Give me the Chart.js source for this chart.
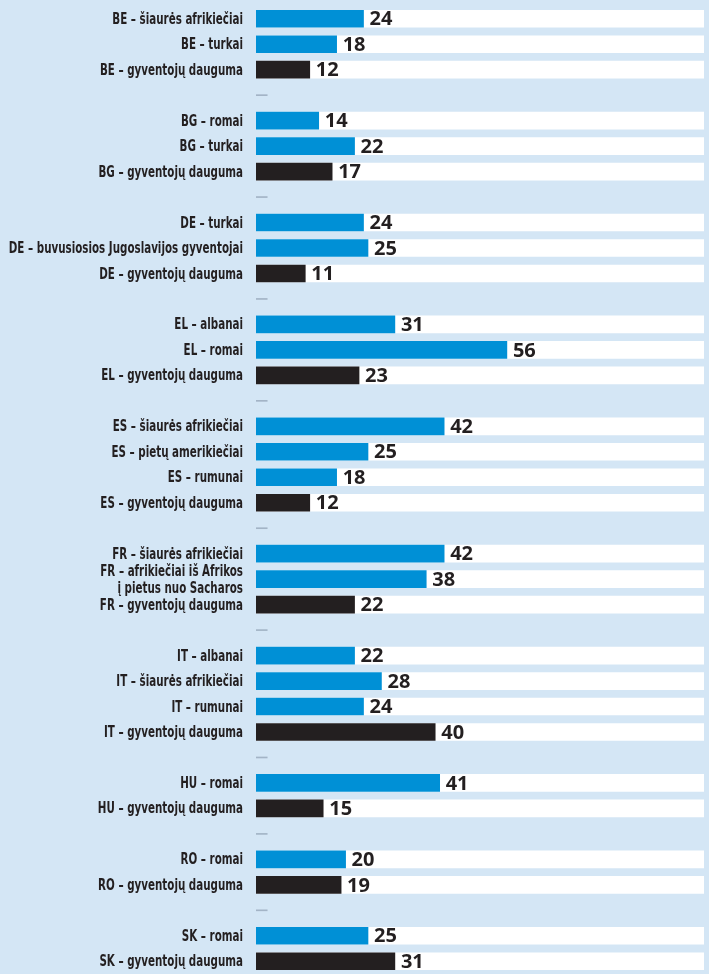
<!DOCTYPE html>
<html>
<head>
<meta charset="utf-8">
<script src="https://cdn.jsdelivr.net/npm/chart.js@4/dist/chart.umd.min.js"></script>
<style>
  body { margin: 0; background: #d4e6f5; }
  #wrap { width: 709px; height: 974px; position: relative; }
</style>
</head>
<body>
<div id="wrap"><canvas id="grafikas"></canvas></div>
<script>
// eilutės; null = tarpas tarp šalių grupių
const eilutes = [
    'BE – šiaurės afrikiečiai', 'BE – turkai', 'BE – gyventojų dauguma', null,
    'BG – romai', 'BG – turkai', 'BG – gyventojų dauguma', null,
    'DE – turkai', 'DE – buvusiosios Jugoslavijos gyventojai', 'DE – gyventojų dauguma', null,
    'EL – albanai', 'EL – romai', 'EL – gyventojų dauguma', null,
    'ES – šiaurės afrikiečiai', 'ES – pietų amerikiečiai', 'ES – rumunai', 'ES – gyventojų dauguma', null,
    'FR – šiaurės afrikiečiai', ['FR – afrikiečiai iš Afrikos', 'į pietus nuo Sacharos'], 'FR – gyventojų dauguma', null,
    'IT – albanai', 'IT – šiaurės afrikiečiai', 'IT – rumunai', 'IT – gyventojų dauguma', null,
    'HU – romai', 'HU – gyventojų dauguma', null,
    'RO – romai', 'RO – gyventojų dauguma', null,
    'SK – romai', 'SK – gyventojų dauguma'
];

const reiksmes = [
    24, 18, 12, null,
    14, 22, 17, null,
    24, 25, 11, null,
    31, 56, 23, null,
    42, 25, 18, 12, null,
    42, 38, 22, null,
    22, 28, 24, 40, null,
    41, 15, null,
    20, 19, null,
    25, 31
];

const skaleMax = 100;
const skirtukoIlgis = 2.5;

const spalvaMazuma = '#0090d6';
const spalvaDauguma = '#231f20';

function yraDauguma(label) {
    return typeof label === 'string' && label.includes('gyventojų dauguma');
}

const etiketes = eilutes.map(l => l === null ? '' : l);
const fonas = eilutes.map(l => l === null ? null : skaleMax);
const skirtukai = eilutes.map(l => l === null ? skirtukoIlgis : null);
const spalvos = eilutes.map(l => yraDauguma(l) ? spalvaDauguma : spalvaMazuma);

// siauras šriftas nepasiekiamas, tad etiketės suspaudžiamos horizontaliai
const etikeciuSuspaudimas = 0.74;

const eiluciuEtiketes = {
    id: 'eiluciuEtiketes',
    afterDraw(chart) {
        const ctx = chart.ctx;
        const y = chart.scales.y;
        const dešinė = y.right - 13;
        ctx.save();
        ctx.font = 'bold 15.5px "DejaVu Sans Condensed", "DejaVu Sans", sans-serif';
        ctx.fillStyle = '#231f20';
        ctx.textBaseline = 'middle';
        ctx.textAlign = 'right';
        eilutes.forEach((l, i) => {
            if (l === null) return;
            const centras = y.getPixelForValue(i);
            const eil = Array.isArray(l) ? l : [l];
            eil.forEach((t, j) => {
                const yy = centras + (j - (eil.length - 1) / 2) * 17;
                ctx.save();
                ctx.translate(dešinė, yy);
                ctx.scale(etikeciuSuspaudimas, 1);
                ctx.fillText(t, 0, 1);
                ctx.restore();
            });
        });
        ctx.restore();
    }
};

const reiksmiuEtiketes = {
    id: 'reiksmiuEtiketes',
    afterDatasetsDraw(chart) {
        const ctx = chart.ctx;
        const meta = chart.getDatasetMeta(0);
        ctx.save();
        ctx.font = 'bold 20px "Open Sans", "DejaVu Sans", sans-serif';
        ctx.fillStyle = '#231f20';
        ctx.textBaseline = 'middle';
        ctx.textAlign = 'left';
        meta.data.forEach((bar, i) => {
            if (reiksmes[i] === null) return;
            ctx.fillText(reiksmes[i], bar.x + 6, bar.y + 1);
        });
        ctx.restore();
    }
};

new Chart(document.getElementById('grafikas'), {
    type: 'bar',
    data: {
        labels: etiketes,
        datasets: [
            {
                label: 'Reikšmė',
                data: reiksmes,
                backgroundColor: spalvos,
                barThickness: 17,
                grouped: false,
                order: 1
            },
            {
                label: 'Fonas',
                data: fonas,
                backgroundColor: '#ffffff',
                barThickness: 17,
                grouped: false,
                order: 3
            },
            {
                label: 'Skirtukas',
                data: skirtukai,
                backgroundColor: '#a3b4c6',
                barThickness: 1,
                grouped: false,
                order: 2
            }
        ]
    },
    options: {
        indexAxis: 'y',
        responsive: true,
        maintainAspectRatio: false,
        animation: false,
        layout: { padding: { top: 6, right: 5, bottom: 0, left: 0 } },
        plugins: {
            legend: { display: false },
            tooltip: { enabled: false }
        },
        scales: {
            x: {
                display: false,
                min: 0,
                max: skaleMax
            },
            y: {
                grid: { display: false, drawTicks: false },
                border: { display: false },
                afterFit(scale) { scale.width = 256; },
                ticks: { display: false }
            }
        }
    },
    plugins: [eiluciuEtiketes, reiksmiuEtiketes]
});
</script>
</body>
</html>
